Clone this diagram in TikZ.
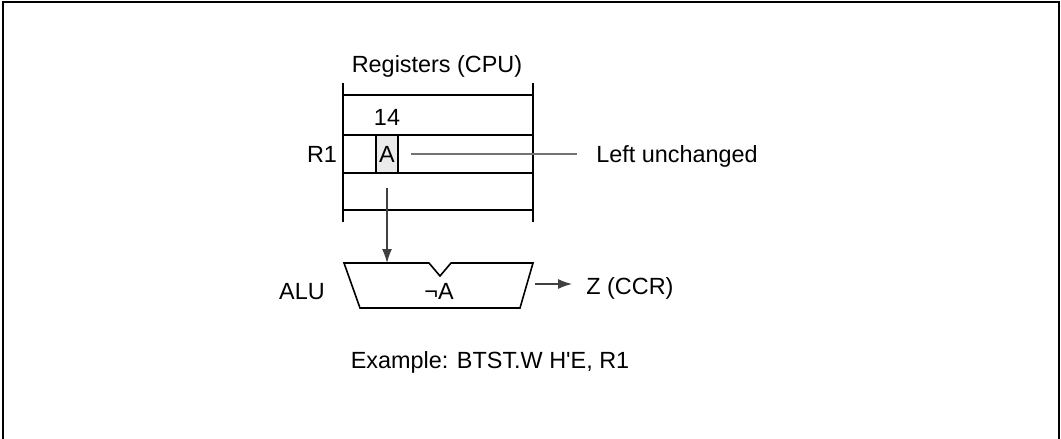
\documentclass[tikz,border=0pt]{standalone}
\usepackage{fontspec}
\setmainfont{Liberation Sans}
\usetikzlibrary{arrows.meta,positioning,calc}

\begin{document}
\begin{tikzpicture}[
  x=0.5pt,y=-0.5pt,
  lbl/.style={inner sep=0pt, font=\fontsize{11.7}{14}\selectfont},
  abox/.style={lbl, draw, fill=black!8, line width=0.8pt, minimum width=11pt, minimum height=19pt},
  regline/.style={line width=0.8pt},
  arr/.style={-{Latex[length=7pt,width=5pt]}, line width=0.6pt, draw=black!75, fill=black!85},
  lead/.style={line width=0.6pt, draw=black!55}
]
\useasboundingbox (0,0) rectangle (1061,439);
\draw[line width=0.8pt] (3,439) -- (3,2) -- (1059,2) -- (1059,439);

% registers
\node[lbl] (regs) at (437,66) {Registers (CPU)};
\foreach \y in {95,135,173,210}{\draw[regline] (343,\y) -- (533,\y);}
\draw[regline] (343,83) -- (343,222);
\draw[regline] (533,83) -- (533,222);
\node[lbl] (bit) at (387,117) {14};
\node[lbl] (r1) at (322,154) {R1};
\node[abox] (a) at (387,154) {A};
\node[lbl, anchor=west] (lu) at (596,156) {Left unchanged};
\draw[lead] ([xshift=6pt]a.east) -- ([xshift=-9.5pt]lu.west |- a.east);

% ALU
\coordinate (src) at (387,188);
\coordinate (alutop) at (387,263);
\draw[line width=0.8pt] (344,263) -- (429,263) -- (440,276) -- (451,263) -- (533,263)
  -- (520,308) -- (360,308) -- cycle;
\node[lbl] (op) at (439,291) {¬A};
\node[lbl] (alu) at (302,292) {ALU};
\coordinate (aluout) at (535,284);
\node[lbl, anchor=west] (z) at (586,288) {Z (CCR)};
\draw[arr] (src) -- (alutop);
\draw[arr] (aluout) -- ([xshift=-7pt]z.west |- aluout);

\node[lbl] (ex) at (490,362) {Example: BTST.W H\textquotesingle E, R1};
\end{tikzpicture}
\end{document}
